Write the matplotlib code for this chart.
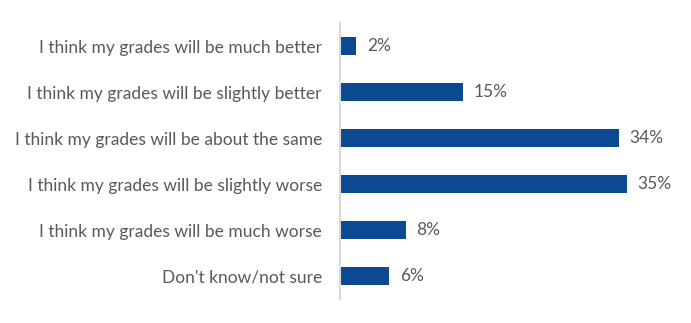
import matplotlib.pyplot as plt

# Survey data
labels = [
    "I think my grades will be much better",
    "I think my grades will be slightly better",
    "I think my grades will be about the same",
    "I think my grades will be slightly worse",
    "I think my grades will be much worse",
    "Don't know/not sure",
]
values = [2, 15, 34, 35, 8, 6]

bar_color = '#0B4A92'
text_color = '#595959'

plt.rcParams['font.family'] = ['Lato', 'DejaVu Sans']

fig = plt.figure(figsize=(6.91, 3.23), dpi=100)
ax = fig.add_axes([340 / 691, 1 - 299 / 323, 328 / 691, 276 / 323])

y = list(range(len(labels)))
ax.barh(y, values, height=0.37, color=bar_color)

for yi, v in zip(y, values):
    ax.text(v + 1.3, yi, f"{v}%", va='center', ha='left', fontsize=12.5, color=text_color)

ax.set_xlim(0, 40)
ax.set_ylim(len(labels) - 0.5, -0.5)
ax.set_yticks(y)
ax.set_yticklabels(labels, fontsize=12.5, color=text_color)
ax.tick_params(axis='y', length=0, pad=13)
ax.set_xticks([])

for side in ['top', 'right', 'bottom']:
    ax.spines[side].set_visible(False)
ax.spines['left'].set_color('#D9D9D9')
ax.spines['left'].set_linewidth(1.5)

fig.savefig('out.png', dpi=100)
